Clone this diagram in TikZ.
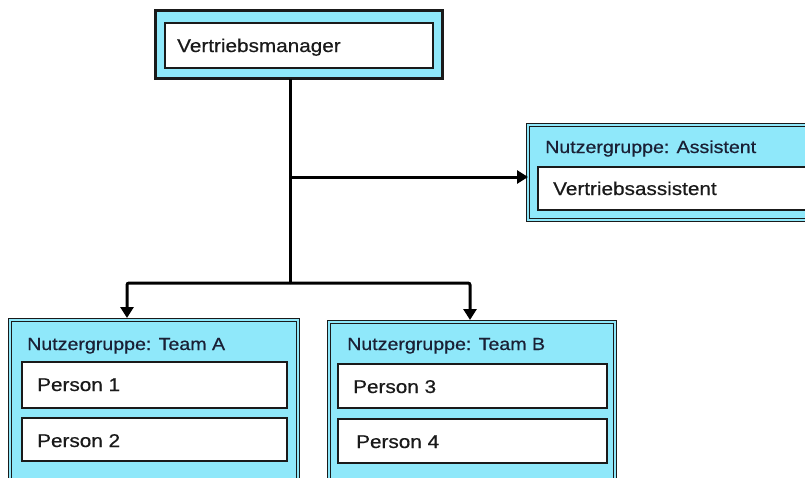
\documentclass[tikz,border=0pt]{standalone}
\usepackage{fontspec}
\setmainfont{Liberation Sans}[FakeStretch=1.12, FakeBold=0.6]
\usetikzlibrary{arrows.meta}
\definecolor{cyanfill}{HTML}{8FE8FA}
\definecolor{frame}{HTML}{1A1A1A}
\definecolor{hdtext}{HTML}{1A2035}
\tikzset{
  groupbox/.style={draw=frame, double=cyanfill, double distance=2pt, line width=1.4pt,
    fill=cyanfill, inner sep=0pt, outer sep=0pt, anchor=north west, rectangle},
  mgrbox/.style={draw=frame, line width=3.2pt, fill=cyanfill, inner sep=0pt, outer sep=0pt,
    anchor=north west, rectangle},
  whitebox/.style={draw=frame, line width=1.3pt, fill=white, inner sep=0pt, outer sep=0pt,
    anchor=north west, rectangle},
  bodytext/.style={anchor=base west, inner sep=0pt, text=frame, font=\fontsize{18.5}{20}\selectfont},
  headtext/.style={anchor=base west, inner sep=0pt, text=hdtext, font=\fontsize{17.5}{20}\selectfont},
  conn/.style={draw=black, line width=3pt, rounded corners=2pt},
  tip/.style={-{Triangle[length=11pt,width=13pt]}}
}
\begin{document}
\begin{tikzpicture}[x=1pt,y=-1pt]
\useasboundingbox (0,0) rectangle (805,477);
\clip (0,0) rectangle (805,477);
% Manager
\node[mgrbox, minimum width=287pt, minimum height=68pt] (mgr) at (155.5,10.5) {};
\node[whitebox, minimum width=268pt, minimum height=45pt] (mgrw) at (165,23) {};
\node[bodytext] (mgrt) at (177,52) {Vertriebsmanager};
% Assistent
\node[groupbox, minimum width=300pt, minimum height=95pt] (asst) at (528,125) {};
\node[headtext] (asstt) at (545,153) {Nutzergruppe: Assistent};
\node[whitebox, minimum width=290pt, minimum height=43pt] (asstw) at (538,167) {};
\node[bodytext] (asstwt) at (553,195) {Vertriebsassistent};
% Team A
\node[groupbox, minimum width=288pt, minimum height=200pt] (teama) at (10,320) {};
\node[headtext] (teamat) at (27,350) {Nutzergruppe: Team A};
\node[whitebox, minimum width=265pt, minimum height=46pt] (p1) at (22,362) {};
\node[bodytext] (p1t) at (37,391) {Person 1};
\node[whitebox, minimum width=265pt, minimum height=43pt] (p2) at (22,418) {};
\node[bodytext] (p2t) at (37,447) {Person 2};
% Team B
\node[groupbox, minimum width=286pt, minimum height=200pt] (teamb) at (329,322) {};
\node[headtext] (teambt) at (347,350) {Nutzergruppe: Team B};
\node[whitebox, minimum width=269pt, minimum height=44pt] (p3) at (338,364) {};
\node[bodytext] (p3t) at (353,393) {Person 3};
\node[whitebox, minimum width=269pt, minimum height=44pt] (p4) at (338,419) {};
\node[bodytext] (p4t) at (356,448) {Person 4};
% connectors
\coordinate (j1) at (290,177);
\coordinate (j2) at (290,283);
\coordinate (ta) at (127,318);
\coordinate (tb) at (470,320);
\draw[conn] (mgr.south -| j1) -- (j2);
\draw[conn, tip] (j1) -- (asst.west |- j1);
\draw[conn, tip] (j2) -| (ta);
\draw[conn, tip] (j2) -| (tb);
\end{tikzpicture}
\end{document}
